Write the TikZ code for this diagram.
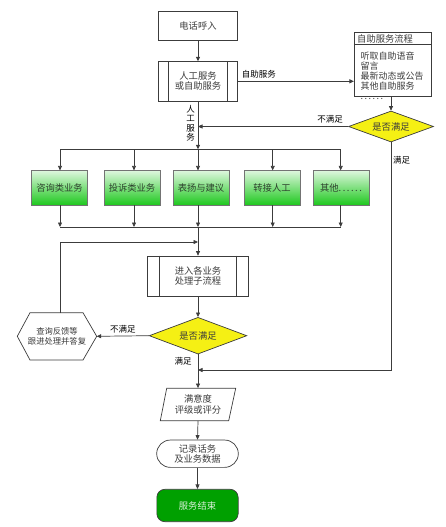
\documentclass[tikz,border=0pt]{standalone}
\usepackage{fontspec}
\setmainfont{Noto Sans CJK SC}
\usetikzlibrary{arrows.meta,shapes.geometric,calc}
\definecolor{ink}{RGB}{60,60,60}
\definecolor{lineclr}{RGB}{60,60,60}
\definecolor{dyellow}{RGB}{245,240,20}
\definecolor{gtop}{RGB}{220,246,220}
\definecolor{gbot}{RGB}{30,200,30}
\definecolor{gend}{RGB}{0,160,0}
\definecolor{gtext}{RGB}{45,65,45}
\begin{document}
\begin{tikzpicture}[x=1pt,y=-1pt,
  line/.style={draw=lineclr, line width=0.7pt},
  arr/.style={line, -{Triangle[length=4.5pt,width=4pt]}},
  txt/.style={font=\fontsize{9.3}{10.2}\selectfont, text=ink, align=center},
  lbl/.style={font=\fontsize{8.5}{9.5}\selectfont, text=black, inner sep=0pt},
  plain/.style={txt, draw=lineclr, fill=white, line width=0.7pt, inner sep=0pt},
  greenbox/.style={txt, text=gtext, draw=black!55, line width=0.7pt, inner sep=0pt,
    top color=gtop, bottom color=gbot, minimum width=56pt, minimum height=34.3pt},
  dia/.style={txt, diamond, draw=lineclr, fill=dyellow, line width=0.7pt, inner sep=0pt, aspect=2.6}
]
\useasboundingbox (0,0) rectangle (445,527);

% top nodes
\node[plain, minimum width=79pt, minimum height=29pt] (call) at (198,25.5) {电话呼入};
\node[plain, minimum width=79.6pt, minimum height=39.3pt] (manual) at (198,81.3) {人工服务\\或自助服务};
\draw[line] ([xshift=10.6pt]manual.north west) -- ([xshift=10.6pt]manual.south west);
\draw[line] ([xshift=-10.6pt]manual.north east) -- ([xshift=-10.6pt]manual.south east);

% self-service box
\node[plain, minimum width=77.4pt, minimum height=64.4pt] (self) at (393,64.5) {};
\draw[line] ([yshift=-12.5pt]self.north west) -- ([yshift=-12.5pt]self.north east);
\node[txt, anchor=west, inner sep=0pt] (selft) at (357,39) {自助服务流程};
\node[txt, anchor=north west, align=left, inner sep=0pt, font=\fontsize{9}{9.8}\selectfont] (selfb) at (360.5,52) {听取自助语音\\留言\\最新动态或公告\\其他自助服务\\.\,.\,.\,.\,.\,.};

% diamond 1
\node[dia, minimum width=85pt, minimum height=31pt] (d1) at (391,126.5) {是否满足};

\draw[arr] (call) -- (manual);
\draw[arr] (manual.east) -- (manual.east -| self.west) node[lbl, pos=0.18, above=2.5pt] (lbself) {自助服务};
\draw[arr] (self.south -| d1.north) -- (d1.north);
\coordinate (jm) at (198,126.5);
\draw[arr] (d1.west) -- (jm) node[lbl, pos=0.12, above=3pt] (lbno1) {不满足};
\node[lbl, align=center, font=\fontsize{8.5}{9.5}\selectfont] (lbman) at (190.5,123.5) {人\\工\\服\\务};

% distribution
\coordinate (dM) at (198,149.3);
\coordinate (dL) at (60,149.3);
\coordinate (dR) at (340.7,149.3);
\draw[arr] (manual.south) -- (dM);
\draw[line] (dL) -- (dR);

\node[greenbox] (g1) at (59.5,187.9) {咨询类业务};
\node[greenbox] (g2) at (132,187.9) {投诉类业务};
\node[greenbox] (g3) at (201,187.9) {表扬与建议};
\node[greenbox] (g4) at (272,187.9) {转接人工};
\node[greenbox] (g5) at (341,187.9) {其他.\,.\,.\,.\,.\,.};

\coordinate (cM) at (198,227);
\coordinate (cL) at (60,227);
\coordinate (cR) at (340.7,227);
\coordinate (d2x) at (134,149.3);
\coordinate (d4x) at (272.7,149.3);
\coordinate (c2x) at (134,227);
\coordinate (c4x) at (272.7,227);
\draw[arr] (dL) -- (dL |- g1.north);
\draw[arr] (d2x) -- (d2x |- g2.north);
\draw[arr] (dM) -- (dM |- g3.north);
\draw[arr] (d4x) -- (d4x |- g4.north);
\draw[arr] (dR) -- (dR |- g5.north);
\draw[arr] (g1.south -| cL) -- (cL);
\draw[arr] (g2.south -| c2x) -- (c2x);
\draw[arr] (g3.south -| cM) -- (cM);
\draw[arr] (g4.south -| c4x) -- (c4x);
\draw[arr] (g5.south -| cR) -- (cR);
\draw[line] (cL) -- (cR);

% sub-process
\node[plain, minimum width=101pt, minimum height=40pt] (sub) at (198,276) {进入各业务\\处理子流程};
\draw[line] ([xshift=12.5pt]sub.north west) -- ([xshift=12.5pt]sub.south west);
\draw[line] ([xshift=-12.5pt]sub.north east) -- ([xshift=-12.5pt]sub.south east);
\draw[arr] (cM) -- (sub.north);

% diamond 2
\node[dia, minimum width=97.7pt, minimum height=36.7pt] (d2) at (198,335.7) {是否满足};
\draw[arr] (sub.south) -- (d2.north);

% hexagon
\draw[line, fill=white] (17.3,336.3) -- (30,312.7) -- (83,312.7) -- (96.7,336.3) -- (83,360) -- (30,360) -- cycle;
\node[txt, inner sep=0pt, font=\fontsize{8.3}{9.5}\selectfont] (hex) at (57,336.3) {查询反馈等\\跟进处理并答复};
\coordinate (hexE) at (96.7,336.3);
\coordinate (hexN) at (60,312.7);
\draw[arr] (d2.west) -- (hexE) node[lbl, pos=0.5, above=2.5pt] (lbno2) {不满足};
\coordinate (loopT) at (60,242);
\coordinate (loopJ) at (198,242);
\draw[arr] (hexN) -- (loopT) -- (loopJ);

% satisfied paths
\coordinate (j2) at (198,370);
\coordinate (rc) at (391,370);
\draw[arr] (d1.south) -- (rc) -- (j2);
\node[lbl] (lbyes1) at (401.5,160) {满足};
\node[lbl] (lbyes2) at (183,361.7) {满足};

% parallelogram
\draw[line] (166.7,388.3) -- (235.7,388.3) -- (228.7,420.7) -- (160.3,420.7) -- cycle;
\node[txt, inner sep=0pt, minimum width=70pt, minimum height=32.4pt] (para) at (198,404.5) {满意度\\评级或评分};
\draw[arr] (d2.south) -- (para.north);

% record
\node[plain, rounded corners=13.6pt, minimum width=81.6pt, minimum height=27.3pt] (rec) at (197.5,453.7) {记录话务\\及业务数据};
\draw[arr] (para.south) -- (rec.north);

% end
\node[plain, fill=gend, text={rgb,255:red,215;green,240;blue,215}, rounded corners=8pt, minimum width=81.3pt, minimum height=32.4pt] (endn) at (197.5,505.5) {服务结束};
\draw[arr] (rec.south) -- (endn.north);
\end{tikzpicture}
\end{document}
